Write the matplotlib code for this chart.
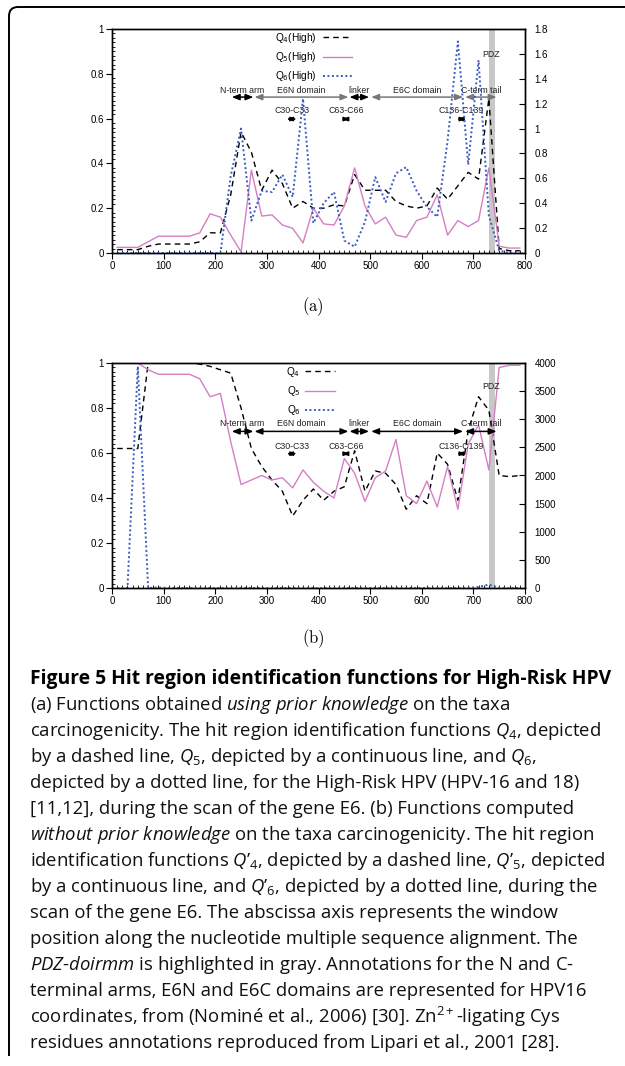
import matplotlib
matplotlib.use("Agg")
import matplotlib.pyplot as plt
from matplotlib.path import Path
from matplotlib.patches import PathPatch

plt.rcParams['font.family'] = ['Liberation Sans', 'DejaVu Sans']
plt.rcParams['mathtext.rm'] = 'Open Sans'
plt.rcParams['mathtext.it'] = 'Open Sans:italic'
plt.rcParams['mathtext.bf'] = 'Open Sans:bold'

# window positions along the alignment
pos = [10, 30, 50, 70, 90, 110, 130, 150, 170, 190,
       210, 230, 250, 270, 290, 310, 330, 350, 370, 390,
       410, 430, 450, 470, 490, 510, 530, 550, 570, 590,
       610, 630, 650, 670, 690, 710, 730, 750, 770, 790]

# (a) with prior knowledge
q4_high = [0.015, 0.015, 0.015, 0.03, 0.04, 0.04, 0.04, 0.04, 0.05, 0.09,
           0.09, 0.26, 0.54, 0.45, 0.28, 0.37, 0.31, 0.20, 0.23, 0.20,
           0.20, 0.215, 0.21, 0.35, 0.28, 0.28, 0.28, 0.23, 0.21, 0.20,
           0.21, 0.29, 0.24, 0.30, 0.36, 0.33, 0.69, 0.02, 0.01, 0.01]
q5_high = [0.025, 0.025, 0.025, 0.05, 0.075, 0.075, 0.075, 0.075, 0.09, 0.175,
           0.16, 0.08, 0.005, 0.37, 0.165, 0.17, 0.125, 0.11, 0.045, 0.20,
           0.13, 0.125, 0.21, 0.38, 0.21, 0.13, 0.16, 0.08, 0.07, 0.145,
           0.16, 0.26, 0.08, 0.145, 0.118, 0.145, 0.38, 0.03, 0.022, 0.022]
q6_high = [0, 0, 0, 0, 0, 0, 0, 0, 0, 0,
           0, 0.62, 1.0, 0.26, 0.50, 0.49, 0.63, 0.45, 1.24, 0.24,
           0.40, 0.49, 0.10, 0.05, 0.25, 0.61, 0.41, 0.64, 0.69, 0.50,
           0.37, 0.29, 0.90, 1.70, 0.71, 1.55, 0.30, 0.02, 0, 0]

# (b) without prior knowledge
q4_b = [0.62, 0.62, 0.62, 1.0, 1.0, 1.0, 1.0, 1.0, 0.995, 0.985,
        0.97, 0.955, 0.80, 0.62, 0.54, 0.48, 0.43, 0.32, 0.39, 0.44,
        0.39, 0.43, 0.45, 0.61, 0.43, 0.52, 0.51, 0.46, 0.35, 0.41,
        0.375, 0.60, 0.55, 0.39, 0.70, 0.85, 0.79, 0.50, 0.495, 0.50]
q5_b = [1.0, 1.0, 1.0, 0.97, 0.95, 0.95, 0.95, 0.95, 0.93, 0.85,
        0.865, 0.65, 0.46, 0.48, 0.50, 0.48, 0.49, 0.445, 0.525, 0.47,
        0.43, 0.40, 0.575, 0.51, 0.385, 0.49, 0.52, 0.66, 0.41, 0.375,
        0.475, 0.36, 0.54, 0.35, 0.64, 0.725, 0.525, 0.98, 0.99, 0.99]
q6_b = [0, 0, 3940, 0, 10, 0, 0, 0, 0, 0,
        0, 0, 0, 0, 0, 0, 0, 0, 0, 0,
        0, 0, 0, 0, 0, 0, 0, 0, 0, 0,
        0, 0, 0, 0, 0, 20, 60, 0, 0, 0]

# HPV16 annotations
domain_names = ["N-term arm", "E6N domain", "linker", "E6C domain", "C-term tail"]
domain_start = [232, 276, 460, 502, 684]
domain_end = [274, 458, 498, 680, 745]
cys_names = ["C30-C33", "C63-C66", "C136-C139"]
cys_start = [338, 445, 668]
cys_end = [358, 461, 686]
pdz_range = (730, 741)

W, H = 625, 1066
PINK = '#d47fc4'
BLUE = '#3a5bc0'

fig = plt.figure(figsize=(W / 100, H / 100), dpi=100)


def px_axes(left, top, right, bottom):
    return fig.add_axes([left / W, 1 - bottom / H, (right - left) / W, (bottom - top) / H])


def style_axes(ax, ax2, rmax, rstep):
    ax.set_xlim(0, 800)
    ax.set_ylim(0, 1)
    ax.set_xticks(range(0, 801, 100))
    ax.set_xticks(range(0, 801, 10), minor=True)
    ax.set_yticks([0, 0.2, 0.4, 0.6, 0.8, 1])
    ax.set_yticks([i / 50 for i in range(51)], minor=True)
    ax.set_yticklabels(['0', '0.2', '0.4', '0.6', '0.8', '1'])
    ax.tick_params(which='major', direction='out', length=4, width=0.8, labelsize=7, pad=2)
    ax.tick_params(which='minor', direction='in', length=2, width=0.6)
    ax2.set_ylim(0, rmax)
    ticks = [i * rstep for i in range(int(round(rmax / rstep)) + 1)]
    ax2.set_yticks(ticks)
    ax2.set_yticklabels(['%g' % t for t in ticks])
    ax2.tick_params(direction='in', length=4, width=0.8, labelsize=7, pad=7)
    for a in (ax, ax2):
        for s in a.spines.values():
            s.set_linewidth(1.0)
    ax.axvspan(pdz_range[0], pdz_range[1], color='#c8c8c8', zorder=0, lw=0)


def annotate_domains(ax, line_col, y_arrow, y_label, y_cys, y_cys_label, y_pdz):
    for name, a, b in zip(domain_names, domain_start, domain_end):
        col = line_col if (b - a) > 55 else 'black'
        ax.annotate('', xy=(b, y_arrow), xytext=(a, y_arrow),
                    arrowprops=dict(arrowstyle='<|-|>,head_length=0.45,head_width=0.18',
                                    color=col, lw=1.1, shrinkA=0, shrinkB=0))
        ax.text((a + b) / 2, y_label, name, ha='center', va='center', fontsize=6.3, color='#222222')
    for name, a, b in zip(cys_names, cys_start, cys_end):
        ax.annotate('', xy=(b, y_cys), xytext=(a, y_cys),
                    arrowprops=dict(arrowstyle='<|-|>,head_length=0.35,head_width=0.12',
                                    color='black', lw=1.0, shrinkA=0, shrinkB=0))
        ax.text((a + b) / 2, y_cys_label, name, ha='center', va='center', fontsize=6.3, color='#222222')
    ax.text(735, y_pdz, 'PDZ', ha='center', va='center', fontsize=6.3, color='#222222')


# ---- panel (a)
ax_a = px_axes(112, 29, 525, 253)
ax_a2 = ax_a.twinx()
l4, = ax_a.plot(pos, q4_high, color='black', lw=1.0, dashes=(4, 3))
l5, = ax_a.plot(pos, q5_high, color=PINK, lw=1.0)
l6, = ax_a2.plot(pos, q6_high, color=BLUE, lw=1.4, dashes=(1, 1.3))
style_axes(ax_a, ax_a2, 1.8, 0.2)
annotate_domains(ax_a, '#777777', 0.696, 0.727, 0.598, 0.637, 0.887)
ax_a2.legend([l4, l5, l6], ['Q$_4$(High)', 'Q$_5$(High)', 'Q$_6$(High)'],
             markerfirst=False, frameon=False, fontsize=7.3, handlelength=2.9,
             handletextpad=0.6, labelspacing=0.5, borderpad=0, borderaxespad=0,
             loc='upper right', bbox_to_anchor=(352 / W, 1 - 31 / H),
             bbox_transform=fig.transFigure)

# ---- panel (b)
ax_b = px_axes(112, 363, 525, 588)
ax_b2 = ax_b.twinx()
m4, = ax_b.plot(pos, q4_b, color='black', lw=1.0, dashes=(4, 3))
m5, = ax_b.plot(pos, q5_b, color=PINK, lw=1.0)
m6, = ax_b2.plot(pos, q6_b, color=BLUE, lw=1.4, dashes=(1, 1.3))
style_axes(ax_b, ax_b2, 4000, 500)
annotate_domains(ax_b, 'black', 0.696, 0.73, 0.597, 0.627, 0.897)
ax_b2.legend([m4, m5, m6], ['Q$_4$', 'Q$_5$', 'Q$_6$'],
             markerfirst=False, frameon=False, fontsize=7.3, handlelength=3.0,
             handletextpad=0.4, labelspacing=0.5, borderpad=0, borderaxespad=0,
             loc='upper right', bbox_to_anchor=(335 / W, 1 - 365 / H),
             bbox_transform=fig.transFigure)

# sub-figure labels
fig.text(313 / W, 1 - 307 / H, r'$\mathrm{(a)}$', math_fontfamily='cm', fontsize=12,
         ha='center', va='center')
fig.text(313 / W, 1 - 639 / H, r'$\mathrm{(b)}$', math_fontfamily='cm', fontsize=12,
         ha='center', va='center')

# caption
caption = [
    r"(a) Functions obtained $\mathit{using\ prior\ knowledge}$ on the taxa",
    r"carcinogenicity. The hit region identification functions $Q_4$, depicted",
    r"by a dashed line, $Q_5$, depicted by a continuous line, and $Q_6$,",
    r"depicted by a dotted line, for the High-Risk HPV (HPV-16 and 18)",
    r"[11,12], during the scan of the gene E6. (b) Functions computed",
    r"$\mathit{without\ prior\ knowledge}$ on the taxa carcinogenicity. The hit region",
    r"identification functions $Q’_4$, depicted by a dashed line, $Q’_5$, depicted",
    r"by a continuous line, and $Q’_6$, depicted by a dotted line, during the",
    r"scan of the gene E6. The abscissa axis represents the window",
    r"position along the nucleotide multiple sequence alignment. The",
    r"$\mathit{PDZ}$-$\mathit{doirmm}$ is highlighted in gray. Annotations for the N and C-",
    r"terminal arms, E6N and E6C domains are represented for HPV16",
    r"coordinates, from (Nominé et al., 2006) [30]. Zn$^{2+}$-ligating Cys",
    r"residues annotations reproduced from Lipari et al., 2001 [28].",
]
fig.text(30 / W, 1 - 679 / H, "Figure 5 Hit region identification functions for High-Risk HPV",
         family='Open Sans', fontweight='bold', fontsize=13.9, ha='left', va='center')
for i, line in enumerate(caption):
    fig.text(30 / W, 1 - (705 + 26 * i) / H, line, family='Open Sans', fontsize=13.3,
             math_fontfamily='custom', ha='left', va='center', color='#111111')

# page frame (rounded corner at top left)
verts = [(9, 1056), (9, 16), (9, 7), (18, 7), (625, 7)]
codes = [Path.MOVETO, Path.LINETO, Path.CURVE3, Path.CURVE3, Path.LINETO]
frame = Path([(x / W, 1 - y / H) for x, y in verts], codes)
fig.add_artist(PathPatch(frame, fill=False, lw=1.4, edgecolor='black',
                         transform=fig.transFigure))

fig.savefig('out.png', dpi=100)
